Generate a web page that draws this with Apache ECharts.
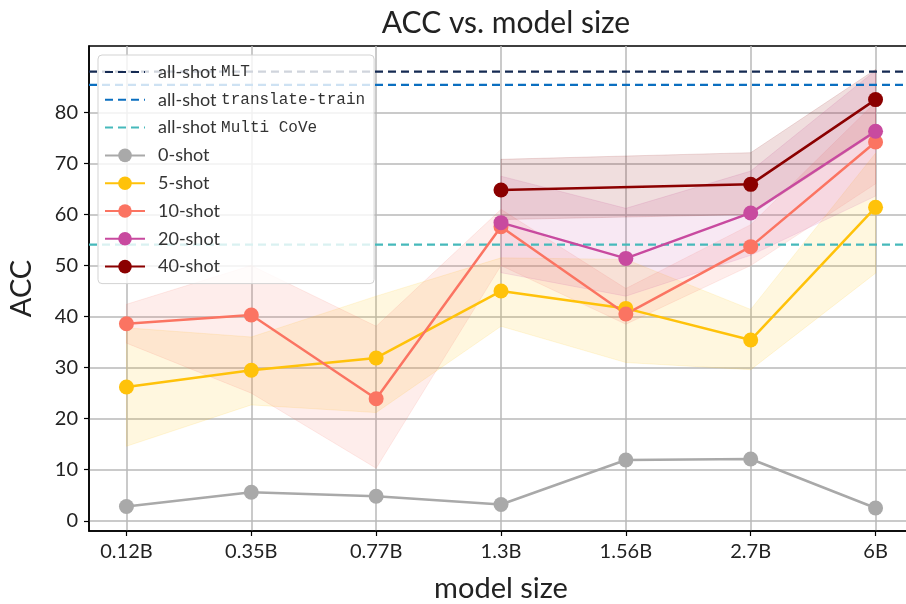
<!DOCTYPE html>
<html>
<head>
<meta charset="utf-8">
<script src="https://cdn.jsdelivr.net/npm/echarts@6/dist/echarts.min.js"></script>
<style>
  html, body { margin: 0; padding: 0; background: #fff; }
  #main { width: 906px; height: 604px; }
</style>
</head>
<body>
<div id="main"></div>
<script>
// model sizes along the x axis
var categories = ['0.12B', '0.35B', '0.77B', '1.3B', '1.56B', '2.7B', '6B'];
var yTicks = [0, 10, 20, 30, 40, 50, 60, 70, 80];

// all-shot reference lines
var refNames = ['all-shot MLT', 'all-shot translate-train', 'all-shot Multi CoVe'];
var refValues = [88.0, 85.4, 54.1];

// mean ACC per shot count (null = not run)
var shot0 = [2.8, 5.6, 4.8, 3.2, 11.9, 12.1, 2.5];
var shot5 = [26.2, 29.5, 31.9, 45.0, 41.6, 35.4, 61.4];
var shot10 = [38.6, 40.3, 23.9, 57.6, 40.5, 53.7, 74.2];
var shot20 = [null, null, null, 58.4, 51.4, 60.3, 76.3];
var shot40 = [null, null, null, 64.8, null, 65.9, 82.5];

// shaded spread around the means
var shot5Lo = [14.6, 22.7, 21.2, 38.1, 31.0, 29.6, 48.5];
var shot5Hi = [37.8, 36.0, 44.0, 51.5, 51.2, 41.4, 72.0];
var shot10Lo = [34.8, 25.0, 10.3, 50.0, 38.5, 50.0, 66.0];
var shot10Hi = [42.4, 50.0, 38.1, 61.0, 45.5, 58.0, 82.0];
var shot20Lo = [null, null, null, 48.6, 44.0, 52.0, 63.6];
var shot20Hi = [null, null, null, 67.5, 61.2, 68.5, 88.2];
var shot40Lo = [null, null, null, 59.0, null, 60.0, 76.0];
var shot40Hi = [null, null, null, 70.8, null, 72.1, 88.4];

var X_MIN = -0.3, X_MAX = 6.3;
var SANS = 'Lato';
var MONO = 'Liberation Mono';

var myChart = echarts.init(document.getElementById('main'));

function pairs(arr) {
	var out = [];
	for (var i = 0; i < arr.length; i++) {
		if (arr[i] != null) out.push([i, arr[i]]);
	}
	return out;
}

// band polygon through the axis scales
function band(lo, hi, color) {
	var rows = [];
	for (var i = 0; i < lo.length; i++) {
		if (lo[i] != null) rows.push([i, lo[i], hi[i]]);
	}
	return {
		type: 'custom',
		coordinateSystem: 'cartesian2d',
		z: 1,
		silent: true,
		encode: { x: 0, y: [1, 2] },
		data: rows,
		renderItem: function (params, api) {
			if (params.dataIndex !== 0) return;
			var pts = [];
			for (var k = 0; k < rows.length; k++) pts.push(api.coord([rows[k][0], rows[k][2]]));
			for (var k = rows.length - 1; k >= 0; k--) pts.push(api.coord([rows[k][0], rows[k][1]]));
			return {
				type: 'polygon',
				shape: { points: pts },
				style: { fill: color, opacity: 0.13, stroke: color, lineWidth: 1 }
			};
		}
	};
}

function refLine(name, value, color) {
	return {
		name: name,
		type: 'line',
		z: 3,
		symbol: 'none',
		data: [[X_MIN, value], [X_MAX, value]],
		lineStyle: { color: color, width: 2.2, type: [8, 5] },
		itemStyle: { color: color }
	};
}

function shotLine(name, arr, color) {
	return {
		name: name,
		type: 'line',
		z: 4,
		symbol: 'circle',
		symbolSize: 15,
		data: pairs(arr),
		lineStyle: { color: color, width: 2.5 },
		itemStyle: { color: color }
	};
}

var colors = {
	mlt: '#152a52', tt: '#0b6fc0', cove: '#46b9bb',
	s0: '#a9a9a9', s5: '#ffc20a', s10: '#fb7462', s20: '#c84a9f', s40: '#8b0000'
};

// legend entries: dashed refs without a marker
var legendData = [];
for (var i = 0; i < refNames.length; i++) {
	legendData.push({ name: refNames[i], itemStyle: { opacity: 0 } });
}
legendData = legendData.concat(['0-shot', '5-shot', '10-shot', '20-shot', '40-shot']);

var option = {
	animation: false,
	backgroundColor: '#fff',
	title: {
		text: 'ACC vs. model size',
		left: 501,
		textAlign: 'center',
		top: 3,
		textStyle: { fontFamily: SANS, fontSize: 30, fontWeight: 'normal', color: '#222' }
	},
	legend: {
		orient: 'vertical',
		left: 98,
		top: 55,
		padding: [8, 9, 8, 6],
		itemWidth: 40,
		itemHeight: 17,
		itemGap: 9.8,
		backgroundColor: 'rgba(255,255,255,0.8)',
		borderColor: '#d3d3d3',
		borderWidth: 1,
		borderRadius: 4,
		data: legendData,
		formatter: function (name) {
			if (name.indexOf('all-shot ') === 0) return 'all-shot {m|' + name.slice(9) + '}';
			return name;
		},
		textStyle: {
			fontFamily: SANS, fontSize: 18, color: '#333', padding: [0, 0, 0, 8],
			rich: { m: { fontFamily: MONO, fontSize: 16, color: '#333' } }
		}
	},
	grid: {
		left: 89, top: 46, width: 824, height: 485,
		outerBoundsMode: 'none',
		show: true, borderColor: '#000', borderWidth: 1.5, backgroundColor: 'transparent',
		containLabel: false
	},
	xAxis: {
		type: 'value',
		min: X_MIN,
		max: X_MAX,
		name: 'model size',
		nameLocation: 'middle',
		nameGap: 43,
		nameTextStyle: { fontFamily: SANS, fontSize: 29, color: '#222' },
		axisLine: { show: true, onZero: false, lineStyle: { color: '#000', width: 1.5 } },
		axisTick: { show: true, length: 5, lineStyle: { color: '#000', width: 1.2 }, customValues: [0, 1, 2, 3, 4, 5, 6] },
		axisLabel: {
			customValues: [0, 1, 2, 3, 4, 5, 6],
			margin: 11,
			fontFamily: SANS, fontSize: 20, color: '#222',
			formatter: function (v) { return categories[Math.round(v)]; }
		},
		splitLine: { show: true, lineStyle: { color: '#b8b8b8', width: 1.5 } }
	},
	yAxis: {
		type: 'value',
		min: -2,
		max: 93,
		name: 'ACC',
		nameLocation: 'middle',
		nameGap: 53,
		nameTextStyle: { fontFamily: SANS, fontSize: 29, color: '#222' },
		axisLine: { show: true, onZero: false, lineStyle: { color: '#000', width: 1.5 } },
		axisTick: { show: true, length: 5, lineStyle: { color: '#000', width: 1.2 }, customValues: yTicks },
		axisLabel: { customValues: yTicks, margin: 11, fontFamily: SANS, fontSize: 20, color: '#222' },
		splitLine: { show: true, lineStyle: { color: '#b8b8b8', width: 1.5 } }
	},
	series: [
		band(shot5Lo, shot5Hi, colors.s5),
		band(shot10Lo, shot10Hi, colors.s10),
		band(shot20Lo, shot20Hi, colors.s20),
		band(shot40Lo, shot40Hi, colors.s40),
		refLine(refNames[0], refValues[0], colors.mlt),
		refLine(refNames[1], refValues[1], colors.tt),
		refLine(refNames[2], refValues[2], colors.cove),
		shotLine('0-shot', shot0, colors.s0),
		shotLine('5-shot', shot5, colors.s5),
		shotLine('10-shot', shot10, colors.s10),
		shotLine('20-shot', shot20, colors.s20),
		shotLine('40-shot', shot40, colors.s40)
	]
};

myChart.setOption(option);
</script>
</body>
</html>
